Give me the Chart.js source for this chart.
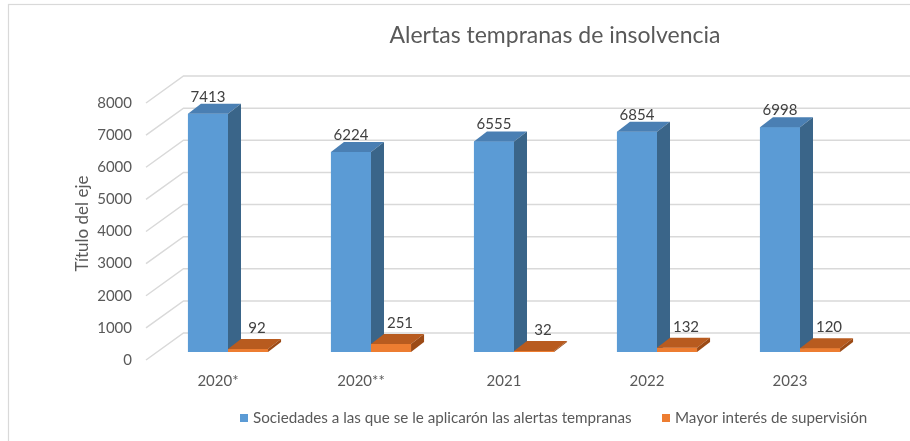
<!DOCTYPE html>
<html>
<head>
<meta charset="utf-8">
<script src="https://cdn.jsdelivr.net/npm/chart.js@4.4.0/dist/chart.umd.min.js"></script>
<style>
html, body { margin: 0; padding: 0; background: #fff; }
#wrap { width: 910px; height: 441px; }
</style>
</head>
<body>
<div id="wrap"><canvas id="chart" width="910" height="441"></canvas></div>
<script>
// data
const years = ["2020*", "2020**", "2021", "2022", "2023"];
const sociedades = [7413, 6224, 6555, 6854, 6998];
const supervision = [92, 251, 32, 132, 120];
const seriesNames = [
    "Sociedades a las que se le aplicarón las alertas tempranas",
    "Mayor interés de supervisión"
];
const chartTitle = "Alertas tempranas de insolvencia";
const axisTitle = "Título del eje";
const yMin = 0, yMax = 8000, yStep = 1000;

// colours: front, top, side
const frontCols = ["#5b9bd5", "#ed7d31"];
const topCols = ["#4a7fb3", "#b85b1f"];
const sideCols = ["#3a6589", "#9c4a15"];
const textCol = "#595959";
const gridCol = "#d9d9d9";
const FONT = "Lato, 'Open Sans', sans-serif";

// 3d offsets
const DX = 13, DY = -10;
const WALL_DX = 27, WALL_DY = -19;   // back wall vs bar plane
const LEFT_X = 146;                  // front edge of side wall lines

const depthPlugin = {
    id: "depth",
    beforeDraw(chart) {
        const ctx = chart.ctx;
        ctx.save();
        ctx.strokeStyle = gridCol;
        ctx.lineWidth = 1.2;
        ctx.strokeRect(8.5, 4.5, 1200, 1200);
        ctx.restore();
    },
    beforeDatasetsDraw(chart) {
        const ctx = chart.ctx;
        const y = chart.scales.y;
        const backX = chart.chartArea.left + WALL_DX;
        ctx.save();
        ctx.strokeStyle = gridCol;
        ctx.lineWidth = 1.5;
        for (let v = yMin; v <= yMax; v += yStep) {
            const py = y.getPixelForValue(v);
            ctx.beginPath();
            ctx.moveTo(LEFT_X, py + 8);
            ctx.lineTo(backX, py + WALL_DY);
            ctx.lineTo(chart.width, py + WALL_DY);
            ctx.stroke();
        }
        ctx.restore();
    },
    afterDatasetsDraw(chart) {
        const ctx = chart.ctx;
        ctx.save();
        // bars, series 0 first so the orange ones sit in front of the blue sides
        chart.data.datasets.forEach((ds, i) => {
            chart.getDatasetMeta(i).data.forEach(bar => {
                const p = bar.getProps(["x", "y", "base", "width"], true);
                const l = p.x - p.width / 2, r = p.x + p.width / 2;
                ctx.fillStyle = frontCols[i];
                ctx.fillRect(l, p.y, p.width, p.base - p.y);
                ctx.fillStyle = topCols[i];
                ctx.beginPath();
                ctx.moveTo(l, p.y);
                ctx.lineTo(l + DX, p.y + DY);
                ctx.lineTo(r + DX, p.y + DY);
                ctx.lineTo(r, p.y);
                ctx.closePath();
                ctx.fill();
                ctx.fillStyle = sideCols[i];
                ctx.beginPath();
                ctx.moveTo(r, p.y);
                ctx.lineTo(r + DX, p.y + DY);
                ctx.lineTo(r + DX, p.base + DY);
                ctx.lineTo(r, p.base);
                ctx.closePath();
                ctx.fill();
            });
        });
        // value labels
        ctx.font = "15px " + FONT;
        ctx.fillStyle = "#404040";
        ctx.textAlign = "center";
        ctx.textBaseline = "middle";
        const offs = [[0, -17], [9, -21]];
        chart.data.datasets.forEach((ds, i) => {
            chart.getDatasetMeta(i).data.forEach((bar, j) => {
                ctx.fillText(String(ds.data[j]), bar.x + offs[i][0], bar.y + offs[i][1]);
            });
        });
        // title
        ctx.font = "23px " + FONT;
        ctx.fillStyle = textCol;
        ctx.fillText(chartTitle, 555, 36);
        // legend
        ctx.font = "15.2px " + FONT;
        ctx.textAlign = "left";
        const legX = [240, 662];
        seriesNames.forEach((name, i) => {
            ctx.fillStyle = frontCols[i];
            ctx.fillRect(legX[i], 414, 8, 8);
            ctx.fillStyle = textCol;
            ctx.fillText(name, legX[i] + 13, 418.5);
        });
        ctx.restore();
    }
};

new Chart(document.getElementById("chart"), {
    type: "bar",
    data: {
        labels: years,
        datasets: [
            { label: seriesNames[0], data: sociedades, backgroundColor: frontCols[0] },
            { label: seriesNames[1], data: supervision, backgroundColor: frontCols[1] }
        ]
    },
    options: {
        responsive: false,
        animation: false,
        categoryPercentage: 0.56,
        barPercentage: 1,
        layout: { padding: { top: 95, right: 38.5, bottom: 0, left: 0 } },
        plugins: {
            legend: { display: false },
            title: { display: false },
            tooltip: { enabled: false }
        },
        scales: {
            x: {
                grid: { display: false, drawTicks: false },
                border: { display: false },
                ticks: { padding: 20, labelOffset: -10, color: textCol, font: { family: FONT, size: 15 } },
                afterFit(s) { s.height = 89; }
            },
            y: {
                min: yMin, max: yMax,
                grid: { display: false, drawTicks: false },
                border: { display: false },
                ticks: {
                    stepSize: yStep, padding: 24.5, labelOffset: 8, color: textCol,
                    font: { family: FONT, size: 15 },
                    callback: v => String(v)
                },
                title: { display: true, text: axisTitle, color: textCol, font: { family: FONT, size: 17 }, padding: { top: 72, bottom: 0 } },
                afterFit(s) { s.width = 156.5; }
            }
        }
    },
    plugins: [depthPlugin]
});
</script>
</body>
</html>
